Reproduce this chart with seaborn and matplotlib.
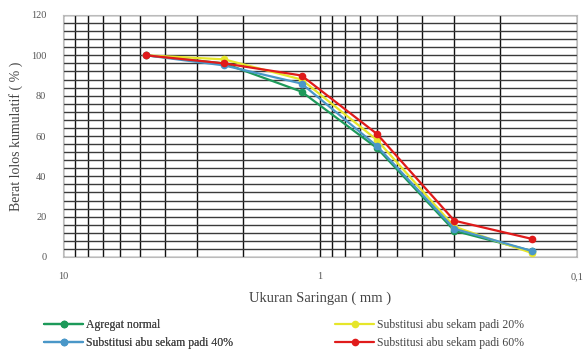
import numpy as np
import pandas as pd
import matplotlib
matplotlib.use("Agg")
import matplotlib.pyplot as plt
from matplotlib.ticker import FixedLocator, MultipleLocator
import seaborn as sns

# Sieve sizes (mm) and cumulative passing (%)
sieve_mm = [4.75, 2.36, 1.18, 0.6, 0.3, 0.15]
agregat_normal = [100, 96, 82, 54, 13, 3]
abu_20 = [100, 98, 88, 58, 15, 2]
abu_40 = [100, 95, 86, 55, 14, 3]
abu_60 = [100, 96, 90, 61, 18, 9]

series_names = [
    "Agregat normal",
    "Substitusi abu sekam padi 20%",
    "Substitusi abu sekam padi 40%",
    "Substitusi abu sekam padi 60%",
]
series_values = [agregat_normal, abu_20, abu_40, abu_60]
series_colors = ["#1d9a5a", "#e6e62a", "#4a97c8", "#e01b1b"]

x_ticks = [10, 1, 0.1]
x_tick_labels = ["10", "1", "0,1"]

df = pd.concat(
    [pd.DataFrame({"Ukuran": sieve_mm, "Lolos": v, "Seri": n})
     for n, v in zip(series_names, series_values)],
    ignore_index=True,
)

sns.set_style("white")
plt.rcParams["font.family"] = ["Liberation Serif", "DejaVu Serif"]

W, H = 584, 362
fig = plt.figure(figsize=(W / 100, H / 100), dpi=100)
ax = fig.add_axes([63 / W, 1 - 257 / H, (577 - 63) / W, (257 - 15) / H])

sns.lineplot(
    data=df, x="Ukuran", y="Lolos", hue="Seri", hue_order=series_names,
    palette=series_colors, marker="o", markersize=5.5, markeredgewidth=0,
    linewidth=1.6, ax=ax, legend=True, zorder=5,
)

ax.set_xscale("log")
ax.set_xlim(10, 0.1)
ax.set_ylim(0, 120)

ax.xaxis.set_major_locator(FixedLocator(x_ticks))
ax.set_xticklabels(x_tick_labels)
minor_x = [m * d for d in (1, 0.1) for m in range(2, 10)]
ax.xaxis.set_minor_locator(FixedLocator(minor_x))
ax.xaxis.set_minor_formatter(plt.NullFormatter())
ax.yaxis.set_major_locator(MultipleLocator(20))
ax.yaxis.set_minor_locator(MultipleLocator(4))

ax.grid(True, which="both", axis="x", color="#111111", linewidth=1.0)
ax.grid(True, which="both", axis="y", color="#3a3a3a", linewidth=1.0)
ax.set_axisbelow(True)
ax.tick_params(axis="both", which="both", length=0, labelsize=7.5,
               labelcolor="#555555")
ax.tick_params(axis="x", pad=11)
ax.tick_params(axis="y", pad=12)

for s in ax.spines.values():
    s.set_color("#bbbbbb")
    s.set_linewidth(0.8)

ax.set_xlabel("Ukuran Saringan ( mm )", fontsize=10.5, color="#444444")
ax.set_ylabel("Berat lolos kumulatif ( % )", fontsize=10, color="#444444")
ax.xaxis.set_label_coords(0.5, (257 - 292) / 242)
ax.yaxis.set_label_coords((23 - 63) / 514, 0.5)

handles, labels = ax.get_legend_handles_labels()
ax.get_legend().remove()
lut = dict(zip(labels, handles))

legend_kw = dict(loc="center left", frameon=False, fontsize=8.5,
                 handlelength=3.3, handletextpad=0.25, labelspacing=0.55,
                 borderpad=0.3, labelcolor="#444444")
left_col = [series_names[0], series_names[2]]
right_col = [series_names[1], series_names[3]]
leg1 = fig.legend([lut[n] for n in left_col], left_col,
                  bbox_to_anchor=(35 / W, 1 - 334 / H), **legend_kw)
fig.add_artist(leg1)
fig.legend([lut[n] for n in right_col], right_col,
           bbox_to_anchor=(326 / W, 1 - 334 / H), **legend_kw)

fig.savefig("out.png", dpi=100)
